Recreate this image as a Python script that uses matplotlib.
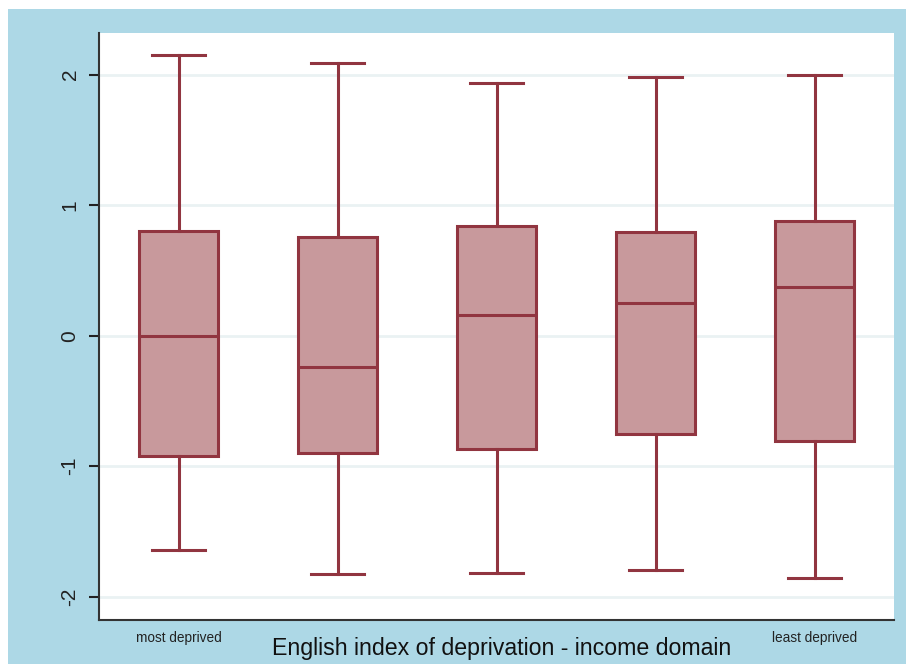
import matplotlib
matplotlib.use("Agg")
import matplotlib.pyplot as plt
from matplotlib.patches import Rectangle

plt.rcParams['font.family'] = ['Liberation Sans', 'DejaVu Sans']

categories = ["most deprived", "", "", "", "least deprived"]
whislo = [-1.64, -1.83, -1.82, -1.80, -1.86]
q1 = [-0.92, -0.90, -0.87, -0.755, -0.81]
med = [0.0, -0.24, 0.157, 0.25, 0.37]
q3 = [0.80, 0.755, 0.84, 0.793, 0.877]
whishi = [2.15, 2.09, 1.935, 1.98, 2.00]
yticks = [-2, -1, 0, 1, 2]

fig = plt.figure(figsize=(9.06, 6.64), dpi=100, facecolor='white')
bg = Rectangle((8 / 906, 0), 1, 1 - 9 / 664, transform=fig.transFigure,
               facecolor='#ADD8E6', edgecolor='none', zorder=-10)
fig.add_artist(bg)
ax = fig.add_axes([99 / 906, 44 / 664, 795 / 906, 587 / 664])
ax.set_zorder(5)
ax.set_facecolor('white')

stats = []
for i in range(len(categories)):
    stats.append(dict(med=med[i], q1=q1[i], q3=q3[i], whislo=whislo[i],
                      whishi=whishi[i], fliers=[]))
positions = list(range(1, len(categories) + 1))
edge = '#913540'
ax.bxp(stats, positions=positions, widths=0.5, patch_artist=True, showfliers=False,
       capwidths=0.33,
       boxprops=dict(facecolor='#C8999C', edgecolor=edge, linewidth=2.2),
       medianprops=dict(color=edge, linewidth=2.2),
       whiskerprops=dict(color=edge, linewidth=2.2),
       capprops=dict(color=edge, linewidth=2.2))

ax.set_xlim(0.5, 5.5)
ax.set_ylim(-2.18, 2.32)
ax.set_yticks(yticks)
ax.set_yticklabels([str(t) for t in yticks], rotation=90, va='center', fontsize=15)
ax.tick_params(axis='y', length=7, width=1.5, pad=7, colors='#222222')
ax.set_xticks(positions)
ax.set_xticklabels(categories, fontsize=9.8)
ax.tick_params(axis='x', length=0, pad=8, colors='#222222')
ax.yaxis.grid(True, color='#EAF2F3', linewidth=2)
ax.set_axisbelow(True)
for s in ['top', 'right']:
    ax.spines[s].set_visible(False)
for s in ['left', 'bottom']:
    ax.spines[s].set_color('#333333')
    ax.spines[s].set_linewidth(1.5)
ax.set_xlabel("English index of deprivation - income domain", fontsize=16.7,
              color='#111111', va='center')
ax.xaxis.set_label_coords(0.507, -29 / 587)

fig.savefig("out.png", dpi=100, facecolor=fig.get_facecolor())
